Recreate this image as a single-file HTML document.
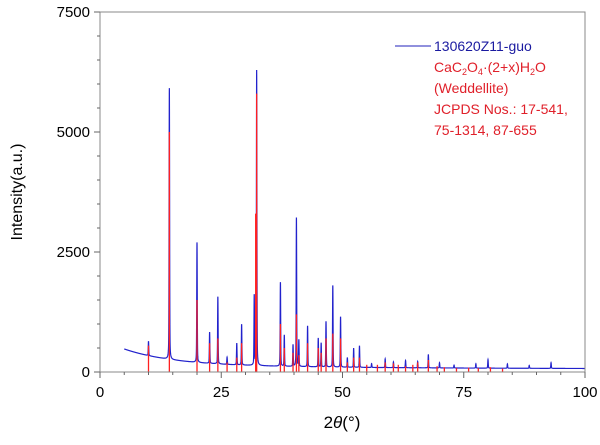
<!DOCTYPE html>
<html><head><meta charset="utf-8"><style>
body{margin:0;background:#fff;}
svg text{font-family:"Liberation Sans",sans-serif;}
</style></head><body>
<svg width="600" height="440" viewBox="0 0 600 440" xmlns="http://www.w3.org/2000/svg">
<rect x="0" y="0" width="600" height="440" fill="#fff"/>
<g id="plot"></g>
<rect x="100" y="12" width="485" height="360" fill="none" stroke="#888" stroke-width="1"/>
<g id="axes"></g>
<g font-size="14">
<line x1="395" y1="46" x2="431" y2="46" stroke="#2222bb" stroke-width="1"/>
<text x="434" y="51" fill="#1a1aa0">130620Z11-guo</text>
<text x="434" y="72" fill="#e0202a">CaC<tspan font-size="9" dy="3">2</tspan><tspan dy="-3">O</tspan><tspan font-size="9" dy="3">4</tspan><tspan dy="-3">·(2+x)H</tspan><tspan font-size="9" dy="3">2</tspan><tspan dy="-3">O</tspan></text>
<text x="434" y="93" fill="#e0202a">(Weddellite)</text>
<text x="434" y="114" fill="#e0202a">JCPDS Nos.: 17-541,</text>
<text x="434" y="135" fill="#e0202a">75-1314, 87-655</text>
</g>
<text x="22" y="192" font-size="16" transform="rotate(-90 22 192)" text-anchor="middle">Intensity(a.u.)</text>
<text x="342" y="428" font-size="17" text-anchor="middle">2<tspan font-style="italic">θ</tspan>(°)</text>
</svg>
<script>
const peakPos=[10.0,14.3,20.0,22.6,24.3,26.2,28.2,29.2,31.8,32.3,37.2,38.0,39.8,40.5,41.0,42.8,45.0,45.6,46.6,48.0,49.6,51.0,52.3,53.5,56.0,58.8,60.5,63.0,65.5,67.7,70.0,73.0,77.5,80.0,84.0,88.5,93.0];
const peakInt=[300,5650,2500,650,1400,150,450,850,1450,6150,1750,650,450,3100,550,850,600,500,950,1700,1050,200,400,450,80,180,120,150,130,280,110,60,90,180,90,60,120];
const refPos=[10.0,14.3,20.0,22.6,24.3,26.2,28.2,29.2,32.1,32.3,37.2,38.0,39.8,40.5,41.0,42.8,45.0,45.6,46.6,48.0,49.6,51.0,52.3,53.5,55.0,57.2,58.8,60.5,61.5,63.0,64.5,65.5,67.7,69.5,71.0,73.5,76.0,78.0,80.5,83.0];
const refInt=[550,5000,1500,600,700,200,300,600,3300,5800,1000,500,400,1200,350,600,500,400,700,800,700,200,300,300,150,150,200,180,150,120,150,200,250,120,100,80,90,80,100,70];
const xTicks=[0,25,50,75,100];
const yTicks=[0,2500,5000,7500];
const NS="http://www.w3.org/2000/svg";
const X=t=>100+t*4.85, Y=v=>372-v*0.048;
const plot=document.getElementById('plot'), axes=document.getElementById('axes');
function bg(t){return 60+330*Math.exp(-(t-5)/10)+90*Math.exp(-(t-5)/50);}
let pts=[];
for(let k=500;k<=10000;k++){
 const t=k/100;
 let v=bg(t);
 for(let i=0;i<peakPos.length;i++){const d=(t-peakPos[i])/0.07;v+=peakInt[i]*(0.7*Math.exp(-d*d)+0.3/(1+d*d));}
 pts.push(X(t).toFixed(2)+','+Y(v).toFixed(2));
}
const pl=document.createElementNS(NS,'polyline');
pl.setAttribute('points',pts.join(' '));
pl.setAttribute('fill','none');pl.setAttribute('stroke','#2222cc');pl.setAttribute('stroke-width','1.2');


plot.appendChild(pl);
refPos.forEach((p,i)=>{
 const l=document.createElementNS(NS,'line');
 l.setAttribute('x1',X(p));l.setAttribute('x2',X(p));l.setAttribute('y1',Y(0));l.setAttribute('y2',Y(refInt[i]));
 l.setAttribute('stroke','#ff2020');l.setAttribute('stroke-width','1.3');
 
 
 plot.appendChild(l);
});
function ln(x1,y1,x2,y2){const l=document.createElementNS(NS,'line');l.setAttribute('x1',x1);l.setAttribute('y1',y1);l.setAttribute('x2',x2);l.setAttribute('y2',y2);l.setAttribute('stroke','#666');l.setAttribute('stroke-width','1');


axes.appendChild(l);}
for(let t=0;t<=100;t+=5){ln(X(t),372,X(t),xTicks.includes(t)?378:375);}
for(let v=0;v<=7500;v+=500){ln(100,Y(v),yTicks.includes(v)?94:97,Y(v));}
xTicks.forEach(t=>{const e=document.createElementNS(NS,'text');e.setAttribute('x',X(t));e.setAttribute('y',397);e.setAttribute('font-size','15');e.setAttribute('text-anchor','middle');e.textContent=t;


axes.appendChild(e);});
yTicks.forEach(v=>{const e=document.createElementNS(NS,'text');e.setAttribute('x',90);e.setAttribute('y',Y(v)+5);e.setAttribute('font-size','15');e.setAttribute('text-anchor','end');e.textContent=v;


axes.appendChild(e);});
</script>
</body></html>
